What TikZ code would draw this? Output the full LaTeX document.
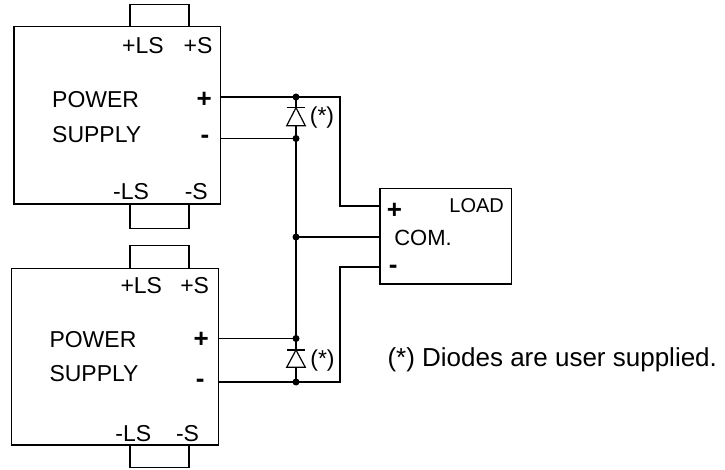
\documentclass[tikz,border=0pt]{standalone}
\usepackage{fontspec}
\setmainfont{Liberation Sans}
\begin{document}
\begin{tikzpicture}[x=1pt,y=-1pt,
  box/.style={draw,line width=1.5pt,rectangle,inner sep=0pt},
  wire/.style={line width=1.2pt},
  lbl/.style={font=\fontsize{23}{23}\selectfont,inner sep=0pt},
  sign/.style={font=\fontsize{26}{26}\selectfont\bfseries,inner sep=0pt,anchor=base},
  dotnode/.style={circle,fill,inner sep=0pt,minimum size=7pt},
  diodetri/.style={line width=1.2pt,fill=white}]
\useasboundingbox (0,0) rectangle (725,470);
% boxes
\node[box,minimum width=206.7pt,minimum height=177.3pt] (ps1) at (117.3,115.3) {};
\node[box,minimum width=206.7pt,minimum height=176.7pt] (ps2) at (115,356.7) {};
\node[box,minimum width=131.7pt,minimum height=95.7pt] (load) at (445.8,236.2) {};
% sense loops
\draw[wire] (ps1.north west -| 130,0) -- (130,4.7) -- (189,4.7) -- (ps1.north west -| 189,0);
\draw[wire] (ps1.south west -| 130,0) -- (130,228.7) -- (189,228.7) -- (ps1.south west -| 189,0);
\draw[wire] (ps2.north west -| 130,0) -- (130,245.7) -- (189,245.7) -- (ps2.north west -| 189,0);
\draw[wire] (ps2.south west -| 130,0) -- (130,467.7) -- (189,467.7) -- (ps2.south west -| 189,0);
% labels top supply
\node[lbl,anchor=base] (t1) at (143,53.3) {+LS};
\node[lbl,anchor=base] (t2) at (198,53.3) {+S};
\node[lbl,anchor=base west] (t3) at (52,107.3) {POWER};
\node[lbl,anchor=base west] (t4) at (52,142.3) {SUPPLY};
\node[sign] (t5) at (204.3,107.8) {+};
\node[sign] (t6) at (205,143.3) {-};
\node[lbl,anchor=base] (t7) at (131,200) {-LS};
\node[lbl,anchor=base] (t8) at (196.3,200) {-S};
% labels bottom supply
\node[lbl,anchor=base] (b1) at (141.3,294) {+LS};
\node[lbl,anchor=base] (b2) at (194.7,294) {+S};
\node[lbl,anchor=base west] (b3) at (49.3,347.3) {POWER};
\node[lbl,anchor=base west] (b4) at (49.3,381.7) {SUPPLY};
\node[sign] (b5) at (201.3,347.8) {+};
\node[sign] (b6) at (200.3,387.7) {-};
\node[lbl,anchor=base] (b7) at (133.3,441.7) {-LS};
\node[lbl,anchor=base] (b8) at (187.5,441.7) {-S};
% load labels
\node[lbl,font=\fontsize{20}{20}\selectfont,anchor=base] (l1) at (476.7,212.7) {LOAD};
\node[lbl,font=\fontsize{22}{22}\selectfont,anchor=base] (l2) at (423,246) {COM.};
\node[sign] (l3) at (394.5,218.3) {+};
\node[sign] (l4) at (393.3,273.3) {-};
% junction dots
\node[dotnode] (d1) at (296,97) {};
\node[dotnode] (d2) at (296,138.5) {};
\node[dotnode] (d3) at (296,237) {};
\node[dotnode] (d4) at (296,338.5) {};
\node[dotnode] (d5) at (296,382) {};
% corner coordinates
\coordinate (c1) at (340,97);
\coordinate (c2) at (340,206);
\coordinate (c3) at (340,382);
\coordinate (c4) at (340,267);
% top supply wires
\draw[wire] (ps1.east |- d1) -- (d1.center) -- (c1) -- (c2) -- (load.west |- c2);
\draw[wire] (ps1.east |- d2) -- (d2.center);
% bottom supply wires
\draw[wire] (ps2.east |- d4) -- (d4.center);
\draw[wire] (ps2.east |- d5) -- (d5.center) -- (c3) -- (c4) -- (load.west |- c4);
% common
\draw[wire] (d2.center) -- (d3.center) -- (d4.center);
\draw[wire] (d3.center) -- (load.west |- d3);
% diodes
\coordinate (k1) at (296,107.7);
\coordinate (a1) at (296,125.7);
\draw[wire] (d1.center) -- (k1);
\draw[wire] (a1) -- (d2.center);
\draw[diodetri] (k1) -- (286.7,125.7) -- (305.3,125.7) -- cycle;
\draw[wire] (286.7,107.7) -- (305.3,107.7);
\coordinate (k2) at (296,350);
\coordinate (a2) at (296,367.3);
\draw[wire] (d4.center) -- (k2);
\draw[wire] (a2) -- (d5.center);
\draw[diodetri] (k2) -- (286.7,367.3) -- (305.3,367.3) -- cycle;
\draw[wire] (286.7,350) -- (305.3,350);
\node[lbl] (s1) at (322,118) {(*)};
\node[lbl] (s2) at (322.5,361) {(*)};
% footnote
\node[lbl,font=\fontsize{26}{26}\selectfont,anchor=base west] (fn) at (387.3,366.7) {(*) Diodes are user supplied.};
\end{tikzpicture}
\end{document}
